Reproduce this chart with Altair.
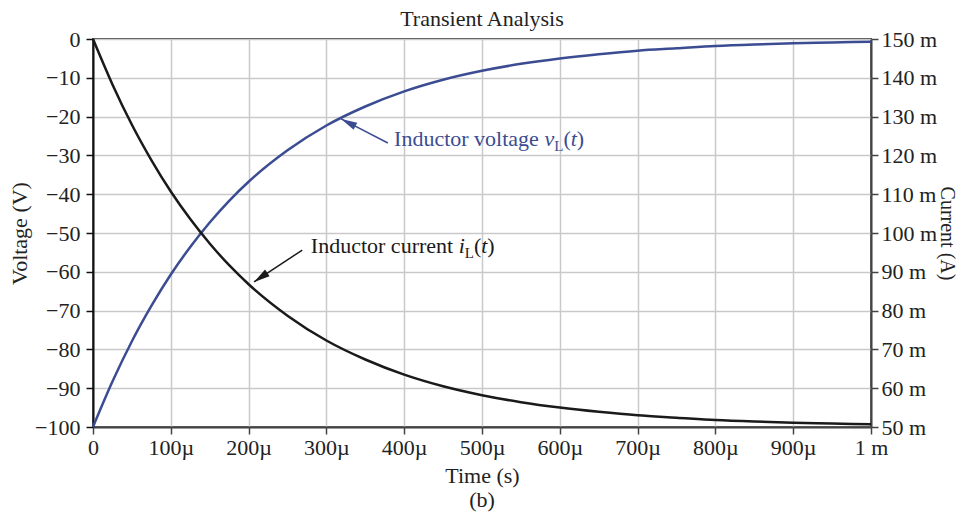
import altair as alt
import pandas as pd

# time in microseconds
t_us = [0, 25, 50, 75, 100, 125, 150, 175, 200, 250, 300, 350, 400, 450,
        500, 550, 600, 650, 700, 750, 800, 850, 900, 950, 1000]
# inductor voltage (V)
v_L = [-100, -88.3, -77.9, -68.8, -60.7, -53.6, -47.3, -41.7, -36.8, -28.7,
       -22.3, -17.4, -13.5, -10.5, -8.2, -6.4, -5.0, -3.9, -3.0, -2.4,
       -1.8, -1.4, -1.1, -0.9, -0.7]
# inductor current (mA)
i_L = [150, 138.3, 127.9, 118.8, 110.7, 103.6, 97.3, 91.7, 86.8, 78.7,
       72.3, 67.4, 63.5, 60.5, 58.2, 56.4, 55.0, 53.9, 53.0, 52.4,
       51.8, 51.4, 51.1, 50.9, 50.7]

# annotation anchors (time us, voltage V)
volt_label = (387, -27.6)
volt_arrow = [(379, -26.8), (319, -20.6)]
curr_label = (280, -55.2)
curr_arrow = [(269, -54.4), (207, -62.6)]
caption = (500, -100, "(b)")

BLUE = "#3b4c92"
BLACK = "#1a1a1a"
FONT = "Liberation Serif"
FS = 22

df = pd.DataFrame({"t": t_us, "v": v_L, "i": i_L})

x_scale = alt.Scale(domain=[0, 1000], nice=False, zero=False)
v_scale = alt.Scale(domain=[-100, 0], nice=False, zero=False)
i_scale = alt.Scale(domain=[50, 150], nice=False, zero=False)

x_axis = alt.Axis(
    values=list(range(0, 1001, 100)),
    labelExpr="datum.value == 0 ? '0' : (datum.value == 1000 ? '1 m' : datum.value + 'µ')",
    title="Time (s)", titlePadding=7, labelPadding=3,
    grid=True, domainColor="#444", tickColor="#444",
    labelOverlap=False, labelFlush=False,
)
v_axis = alt.Axis(
    values=list(range(-100, 1, 10)),
    labelExpr="datum.value == 0 ? '0' : '−' + abs(datum.value)",
    title="Voltage (V)", titlePadding=3, labelPadding=6,
    grid=True, domainColor="#111", tickColor="#111",
    labelOverlap=False, labelFlush=False,
)
i_axis = alt.Axis(
    values=list(range(50, 151, 10)), orient="right",
    labelExpr="datum.value + ' m'",
    title="Current (A)", titlePadding=0, labelPadding=3, titleFontSize=20,
    grid=False, domainColor="#444", tickColor="#444",
    labelOverlap=False, labelFlush=False,
)

volt_line = alt.Chart(df).mark_line(color=BLUE, strokeWidth=2.5, interpolate="monotone").encode(
    x=alt.X("t:Q", scale=x_scale, axis=x_axis),
    y=alt.Y("v:Q", scale=v_scale, axis=v_axis),
)
curr_line = alt.Chart(df).mark_line(color=BLACK, strokeWidth=2.5, interpolate="monotone").encode(
    x=alt.X("t:Q", scale=x_scale, axis=x_axis),
    y=alt.Y("i:Q", scale=i_scale, axis=i_axis),
)


def seg(anchor, text, dx, color, style="normal", size=FS, dy=0, align="left",
        baseline="alphabetic"):
    d = pd.DataFrame({"t": [anchor[0]], "v": [anchor[1]], "txt": [text]})
    return alt.Chart(d).mark_text(
        align=align, baseline=baseline, font=FONT, fontSize=size,
        fontStyle=style, color=color, dx=dx, dy=dy,
    ).encode(
        x=alt.X("t:Q", scale=x_scale, axis=x_axis),
        y=alt.Y("v:Q", scale=v_scale, axis=v_axis),
        text="txt:N",
    )


def arrow(pts, color, angle):
    d = pd.DataFrame({"t": [p[0] for p in pts], "v": [p[1] for p in pts], "o": [0, 1]})
    line = alt.Chart(d).mark_line(color=color, strokeWidth=1.5).encode(
        x=alt.X("t:Q", scale=x_scale, axis=x_axis),
        y=alt.Y("v:Q", scale=v_scale, axis=v_axis),
        order="o:O",
    )
    head = alt.Chart(d.iloc[[1]]).mark_point(
        shape="M0,0 L-0.5,2 L0.5,2 Z", filled=True, color=color, opacity=1,
        size=256, angle=angle, strokeWidth=0,
    ).encode(
        x=alt.X("t:Q", scale=x_scale, axis=x_axis),
        y=alt.Y("v:Q", scale=v_scale, axis=v_axis),
    )
    return line + head


def label(anchor, prefix, var, color, pre_w, var_w):
    sub_w = 9.2
    par_w = 7.3
    t_w = 6.1
    return alt.layer(
        seg(anchor, prefix, 0, color),
        seg(anchor, var, pre_w, color, style="italic"),
        seg(anchor, "L", pre_w + var_w, color, size=15, dy=5),
        seg(anchor, "(", pre_w + var_w + sub_w, color),
        seg(anchor, "t", pre_w + var_w + sub_w + par_w, color, style="italic"),
        seg(anchor, ")", pre_w + var_w + sub_w + par_w + t_w, color),
    )


annotations = alt.layer(
    arrow(volt_arrow, BLUE, 297),
    arrow(curr_arrow, BLACK, 236),
    label(volt_label, "Inductor voltage ", "v", BLUE, 150.3, 9.8),
    label(curr_label, "Inductor current ", "i", BLACK, 147.8, 6.1),
    seg(caption[:2], caption[2], 0, "#222", align="center", baseline="middle", dy=73),
)

left = alt.layer(volt_line, annotations)

chart = alt.layer(left, curr_line).resolve_scale(y="independent").properties(
    width=778, height=388,
    title=alt.Title("Transient Analysis", font=FONT, fontSize=FS, fontWeight="normal",
                    color="#222", offset=-3),
    autosize=alt.AutoSizeParams(type="none"),
    padding={"left": 85, "top": 31, "right": 86, "bottom": 85},
).configure_view(
    stroke="#444", strokeWidth=2,
).configure_axis(
    labelFont=FONT, labelFontSize=FS, labelColor="#222",
    titleFont=FONT, titleFontSize=FS, titleFontWeight="normal", titleColor="#222",
    gridColor="#c9c9c9", gridWidth=1.5, domainWidth=2, tickWidth=1.5, tickSize=7,
    labelFlush=False, labelOverlap=False,
)

chart.save("out.html", embed_options={"renderer": "svg", "actions": False})
